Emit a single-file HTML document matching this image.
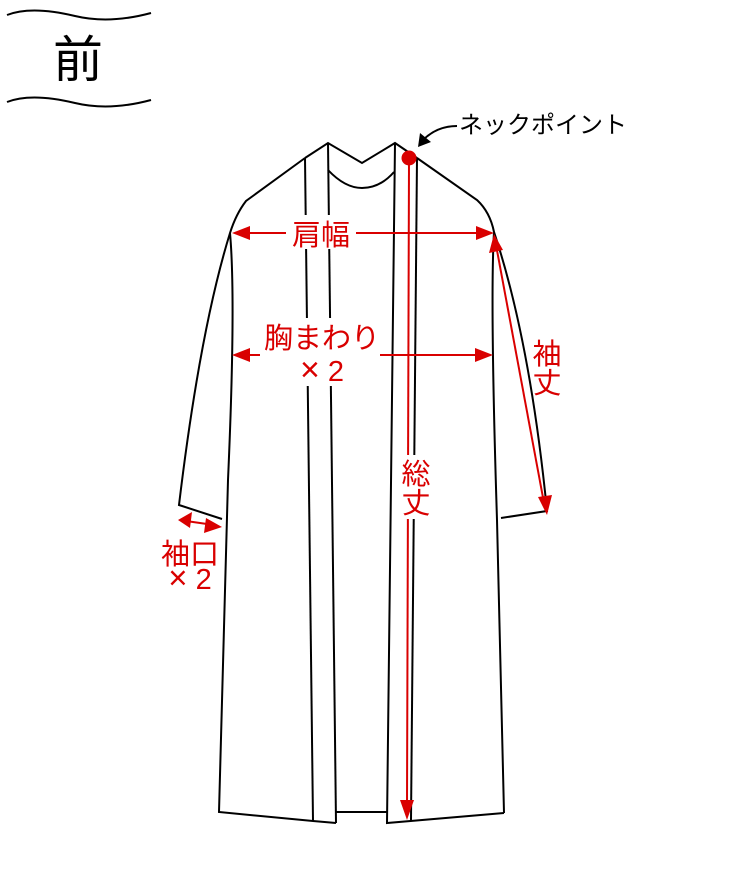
<!DOCTYPE html>
<html><head><meta charset="utf-8"><style>
html,body{margin:0;padding:0;background:#fff;}
svg{display:block;}
text{font-family:"Liberation Sans","Noto Sans CJK JP",sans-serif;}
</style></head><body>
<svg width="730" height="874" viewBox="0 0 730 874" xmlns="http://www.w3.org/2000/svg">
<!-- header -->
<path d="M7,15 C25,8 50,10 75,16 C100,22 125,20 151,13" fill="none" stroke="#000" stroke-width="2"/>
<path d="M7,102 C25,95 50,97 75,103 C100,109 125,107 151,100" fill="none" stroke="#000" stroke-width="2"/>
<text x="78" y="77" font-size="50" text-anchor="middle" fill="#000">前</text>

<!-- garment -->
<g fill="none" stroke="#000" stroke-width="2" stroke-linejoin="miter">
<path d="M305,158 L328,143 L362,163 L395,143 L417,158"/>
<path d="M328,170 Q345,188 362,188 Q380,188 394,172"/>
<path d="M305,158 L246,201 Q236,214 230,233 Q200,330 179,505 L222,519"/>
<path d="M230,233 Q236,300 228,480 L219,812 L313,821 L336,823"/>
<path d="M305,158 L313,821"/>
<path d="M328,143 L336,823"/>
<path d="M336,812 L387,812"/>
<path d="M395,143 L387,823 L504,813"/>
<path d="M417,158 L411,820"/>
<path d="M417,158 L477,200 Q490,212 494,232 Q530,340 547,511 L501,518"/>
<path d="M494,232 Q490,300 497,520 L504,813"/>
</g>

<!-- neck point -->
<path d="M457,126 Q437,126 423,140" fill="none" stroke="#000" stroke-width="2"/>
<polygon points="418,147 420,133 431,142" fill="#000"/>
<text x="459" y="133" font-size="24" fill="#000">ネックポイント</text>

<circle cx="409" cy="158" r="7.5" fill="#d90000"/>
<g stroke="#d90000" stroke-width="2" fill="none">
<line x1="409" y1="160" x2="407" y2="806"/>
<line x1="236" y1="233" x2="490" y2="233"/>
<line x1="236" y1="355" x2="489" y2="355"/>
<line x1="496" y1="245" x2="544" y2="503"/>
<line x1="186" y1="521" x2="214" y2="525"/>
</g>
<g fill="#d90000">
<polygon points="407,820 400,800 414,800"/>
<polygon points="232,233 250,226 250,240"/>
<polygon points="494,233 476,226 476,240"/>
<polygon points="232,355 250,348 250,362"/>
<polygon points="493,355 475,348 475,362"/>
<polygon points="494,234 489,253 503,250"/>
<polygon points="547,515 538,497 552,495"/>
<polygon points="178,520 192,512 190,528"/>
<polygon points="222,527 206,518 204,533"/>
</g>
<rect x="286" y="215" width="70" height="34" fill="#fff"/>
<rect x="260" y="318" width="120" height="68" fill="#fff"/>
<rect x="398" y="455" width="36" height="64" fill="#fff"/>
<g fill="#d90000" font-size="29">
<text x="321" y="245" text-anchor="middle">肩幅</text>
<text x="322" y="348" text-anchor="middle">胸まわり</text>
<text x="322" y="381" text-anchor="middle"><tspan font-size="34">×</tspan> 2</text>
<text x="416" y="484" text-anchor="middle">総</text>
<text x="416" y="513" text-anchor="middle">丈</text>
<text x="547" y="364" text-anchor="middle">袖</text>
<text x="547" y="393" text-anchor="middle">丈</text>
<text x="190" y="564" text-anchor="middle">袖口</text>
<text x="190" y="589" text-anchor="middle"><tspan font-size="33">×</tspan> 2</text>
</g>
</svg>
</body></html>
